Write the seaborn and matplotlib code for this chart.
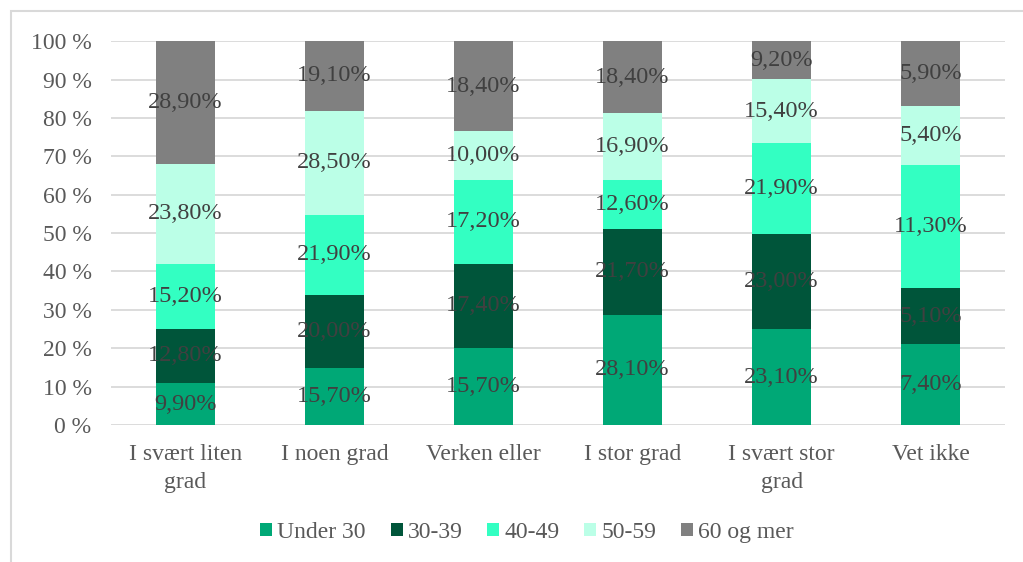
import pandas as pd
import seaborn as sns
import matplotlib
import matplotlib.pyplot as plt
from matplotlib.patches import Rectangle, Patch

# Categories and age-group shares (as shown on the labels)
categories = ["I svært liten\ngrad", "I noen grad", "Verken eller", "I stor grad",
              "I svært stor\ngrad", "Vet ikke"]
groups = ["Under 30", "30-39", "40-49", "50-59", "60 og mer"]
under_30 = [9.9, 15.7, 15.7, 28.1, 23.1, 7.4]
age_30_39 = [12.8, 20.0, 17.4, 21.7, 23.0, 5.1]
age_40_49 = [15.2, 21.9, 17.2, 12.6, 21.9, 11.3]
age_50_59 = [23.8, 28.5, 10.0, 16.9, 15.4, 5.4]
age_60_plus = [28.9, 19.1, 18.4, 18.4, 9.2, 5.9]

colors = ["#00A876", "#00553A", "#33FFC2", "#BBFFE7", "#808080"]

df = pd.DataFrame({"kategori": categories, "Under 30": under_30, "30-39": age_30_39,
                   "40-49": age_40_49, "50-59": age_50_59, "60 og mer": age_60_plus})

# 100% stacked: normalise each category to its total
shares = df[groups].div(df[groups].sum(axis=1), axis=0) * 100
tops = shares.cumsum(axis=1)
bottoms = tops - shares

sns.set_style("white")
plt.rcParams['font.family'] = ['Liberation Serif', 'DejaVu Serif']

fig = plt.figure(figsize=(10.23, 5.62), dpi=100)
ax = fig.add_axes([0.1085, 0.2438, 0.874, 0.683])

# draw from the top series down so lower segments cover upper ones
for g, c in reversed(list(zip(groups, colors))):
    sns.barplot(x=df["kategori"], y=tops[g], color=c, width=0.4, ax=ax,
                saturation=1, linewidth=0, zorder=2)

# segment labels
for i in range(len(categories)):
    for g in groups:
        mid = bottoms.loc[i, g] + shares.loc[i, g] / 2
        txt = f"{df.loc[i, g]:.2f}%".replace(".", ",")
        ax.text(i, mid, txt, ha="center", va="center", fontsize=17.5,
                color="#404040", zorder=3)

ax.set_ylim(0, 100)
ax.set_xlim(-0.5, len(categories) - 0.5)
ax.set_yticks(range(0, 101, 10))
ax.yaxis.set_major_formatter(matplotlib.ticker.FuncFormatter(lambda v, p: f"{int(v)} %"))
ax.grid(axis="y", color="#D9D9D9", linewidth=1.3, zorder=0)
ax.set_axisbelow(True)
for s in ax.spines.values():
    s.set_visible(False)
ax.tick_params(axis="both", length=0, labelsize=17, colors="#595959")
ax.tick_params(axis="y", pad=14)
ax.tick_params(axis="x", pad=14)
ax.set_xlabel("")
ax.set_ylabel("")
for lbl in ax.get_xticklabels():
    lbl.set_linespacing(1.4)

# legend
handles = [Patch(facecolor=c, edgecolor="none") for c in colors]
fig.legend(handles, groups, loc="center", bbox_to_anchor=(0.515, 0.053), ncol=5,
           frameon=False, fontsize=17, handlelength=0.51, handleheight=0.51,
           handletextpad=0.21, columnspacing=1.05, labelcolor="#595959")

# chart area border (partly cut off at the edges)
fig.patches.append(Rectangle((11 / 1023, -0.2), 1.2, 1.2 - 11 / 562,
                             transform=fig.transFigure, fill=False,
                             edgecolor="#D9D9D9", linewidth=1.5))

fig.savefig("out.png", dpi=100, facecolor="white")
